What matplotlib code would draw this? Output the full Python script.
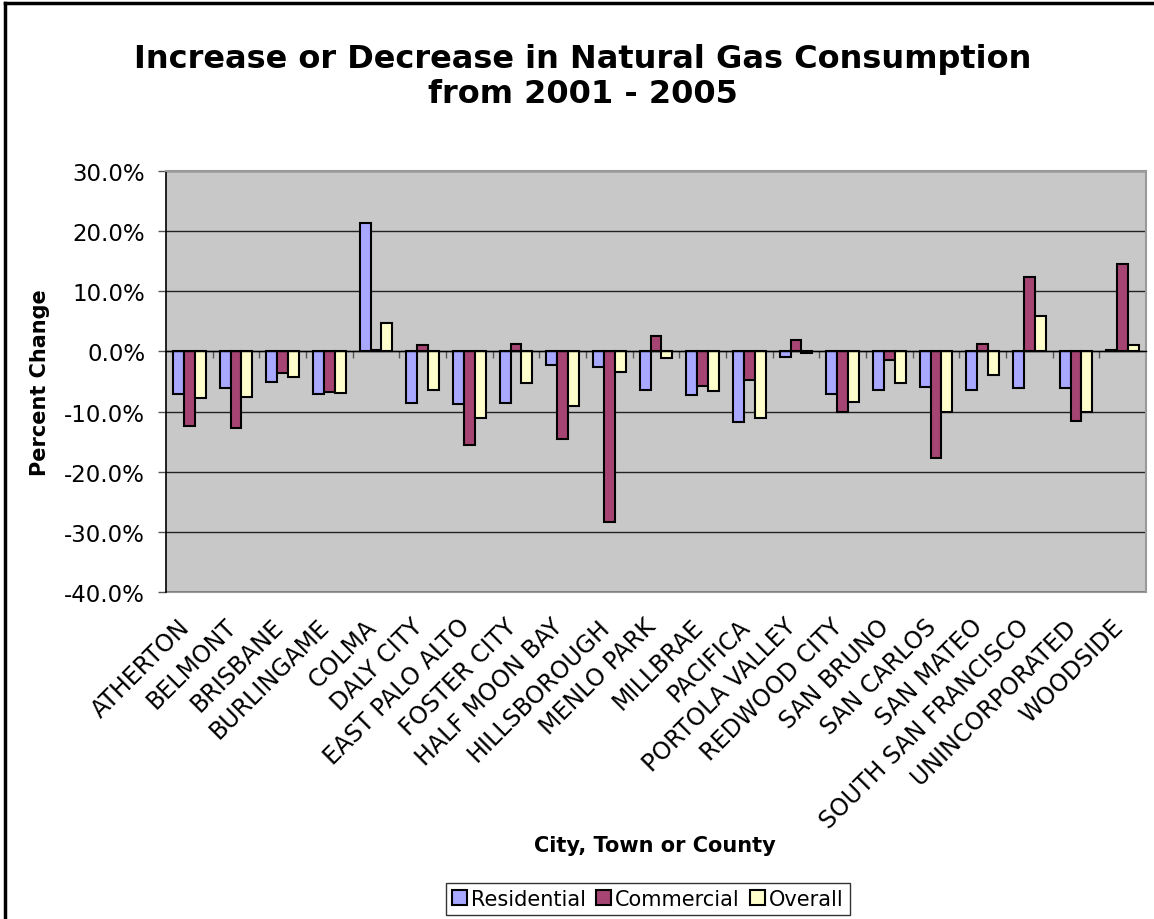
import matplotlib
matplotlib.use("Agg")
import matplotlib.pyplot as plt
import numpy as np
from matplotlib.ticker import FuncFormatter, MultipleLocator
from matplotlib.lines import Line2D
from matplotlib.transforms import blended_transform_factory, ScaledTranslation

cities = ["ATHERTON", "BELMONT", "BRISBANE", "BURLINGAME", "COLMA", "DALY CITY",
          "EAST PALO ALTO", "FOSTER CITY", "HALF MOON BAY", "HILLSBOROUGH",
          "MENLO PARK", "MILLBRAE", "PACIFICA", "PORTOLA VALLEY", "REDWOOD CITY",
          "SAN BRUNO", "SAN CARLOS", "SAN MATEO", "SOUTH SAN FRANCISCO",
          "UNINCORPORATED", "WOODSIDE"]
residential = [-7.0, -6.1, -5.0, -7.0, 21.4, -8.6, -8.8, -8.6, -2.3, -2.6, -6.4,
               -7.2, -11.8, -0.9, -7.0, -6.4, -5.9, -6.4, -6.0, -6.0, 0.2]
commercial = [-12.4, -12.8, -3.6, -6.7, 0.3, 1.05, -15.6, 1.2, -14.5, -28.3, 2.6,
              -5.7, -4.8, 1.9, -10.1, -1.4, -17.8, 1.3, 12.4, -11.6, 14.5]
overall = [-7.8, -7.6, -4.3, -6.9, 4.8, -6.4, -11.1, -5.3, -9.0, -3.4, -1.1,
           -6.5, -11.0, -0.2, -8.4, -5.2, -10.1, -3.9, 5.9, -10.1, 1.0]
series_names = ["Residential", "Commercial", "Overall"]
colors = ["#A8A8FF", "#A64574", "#FFFFCC"]

W, H = 1154, 920
fig = plt.figure(figsize=(W / 100, H / 100), dpi=100)
plt.rcParams['font.family'] = ['DejaVu Sans']

ax = fig.add_axes([166 / W, 1 - 593 / H, 980 / W, 421 / H])
ax.set_facecolor("#C8C8C8")

x = np.arange(len(cities))
bw = 0.232
for i, (vals, col, name) in enumerate(zip([residential, commercial, overall], colors, series_names)):
    ax.bar(x + (i - 1) * bw, vals, width=bw, color=col, edgecolor="black",
           linewidth=1.5, label=name, zorder=3)

ax.set_xlim(-0.5, len(cities) - 0.5)
ax.set_ylim(-40, 30)
ax.yaxis.set_major_locator(MultipleLocator(10))
ax.yaxis.set_major_formatter(FuncFormatter(lambda v, p: f"{v:.1f}%"))
ax.grid(axis="y", color="#222222", linewidth=1.0, zorder=1)
ax.set_axisbelow(True)
ax.tick_params(axis="y", direction="out", length=6, width=1, color="#555555",
               labelsize=16.5, pad=9)

# zero axis with tick marks at category boundaries
ax.spines["bottom"].set_position(("data", 0))
ax.spines["bottom"].set_color("black")
ax.spines["bottom"].set_linewidth(1.0)
ax.spines["bottom"].set_zorder(4)
ax.set_xticks(np.arange(0.5, len(cities) - 1, 1.0))
ax.set_xticklabels([])
ax.tick_params(axis="x", direction="out", length=5, width=1, color="#555555")
ax.spines["left"].set_color("black")
ax.spines["left"].set_linewidth(1.2)
for s in ["top", "right"]:
    ax.spines[s].set_color("#999999")
    ax.spines[s].set_linewidth(1.5)

sec = ax.secondary_xaxis("bottom")
sec.set_xticks([])
sec.spines["bottom"].set_color("#999999")
sec.spines["bottom"].set_linewidth(1.5)

# category labels below the plot area
btrans = blended_transform_factory(ax.transData, ax.transAxes)
off = ScaledTranslation(-12 / 100, -22 / 100, fig.dpi_scale_trans)
for xi, name in zip(x, cities):
    ax.text(xi, 0, name, transform=btrans + off, rotation=45, ha="right", va="top",
            rotation_mode="anchor", fontsize=17, clip_on=False)

ax.set_ylabel("Percent Change", fontsize=15, fontweight="bold", labelpad=10)

fig.text(583 / W, 1 - 77 / H, "Increase or Decrease in Natural Gas Consumption\nfrom 2001 - 2005",
         ha="center", va="center", fontsize=23, fontweight="bold", linespacing=1.2)
fig.text(655 / W, 1 - 846 / H, "City, Town or County", ha="center", va="center",
         fontsize=15, fontweight="bold")

leg = fig.legend(loc="center", bbox_to_anchor=(648 / W, 1 - 900 / H), ncol=3,
                 fontsize=15, frameon=True, fancybox=False, shadow=False,
                 handlelength=0.7, handleheight=0.7, handletextpad=0.2,
                 columnspacing=0.5, borderpad=0.3, borderaxespad=0)
leg.get_frame().set_edgecolor("black")
leg.get_frame().set_linewidth(1.0)

# outer chart border (left and top)
fig.add_artist(Line2D([5 / W, 5 / W], [0, 1 - 4 / H], transform=fig.transFigure,
                      color="black", linewidth=2.5))
fig.add_artist(Line2D([5 / W, 1], [1 - 4 / H, 1 - 4 / H], transform=fig.transFigure,
                      color="black", linewidth=2.5))

fig.savefig("out.png", dpi=100)
